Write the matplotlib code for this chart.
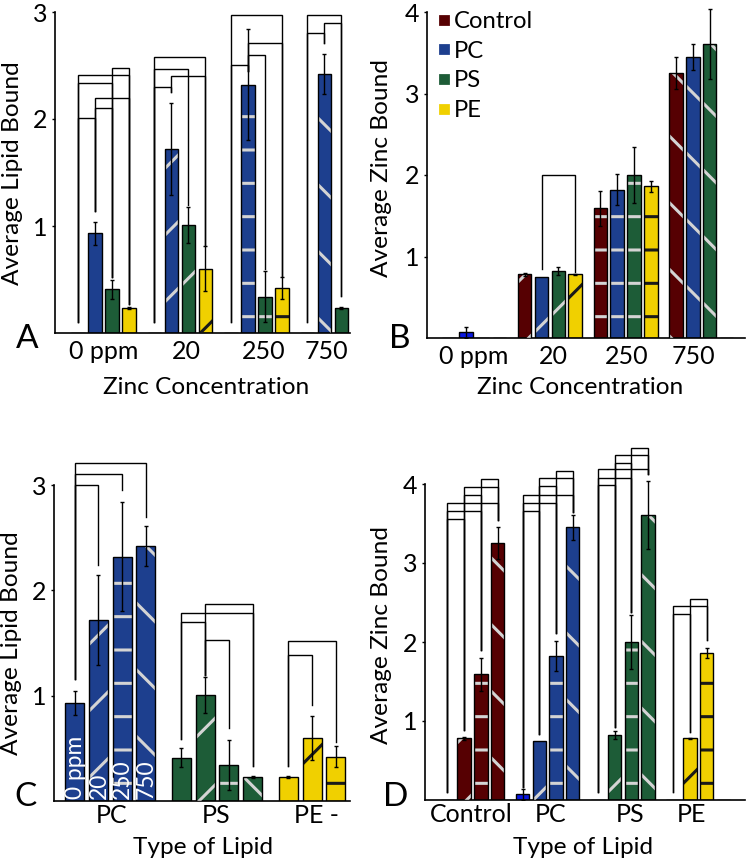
"""Lipid and zinc binding bar panels (A-D) with significance brackets."""

import matplotlib

matplotlib.use("Agg")
import matplotlib.pyplot as plt
import numpy as np
from matplotlib.lines import Line2D

plt.rcParams["font.family"] = ["Lato", "DejaVu Sans"]
plt.rcParams["hatch.linewidth"] = 1.1

LIPIDS = ["Control", "PC", "PS", "PE"]
CONCENTRATIONS = ["0 ppm", "20", "250", "750"]

# rows = lipid (Control, PC, PS, PE), columns = zinc concentration (0, 20, 250, 750 ppm)
LIPID_BOUND = [
    [0.0, 0.0, 0.0, 0.0],
    [0.93, 1.72, 2.32, 2.42],
    [0.41, 1.01, 0.34, 0.23],
    [0.23, 0.60, 0.42, np.nan],
]
LIPID_BOUND_ERR = [
    [0.0, 0.0, 0.0, 0.0],
    [0.11, 0.43, 0.52, 0.19],
    [0.09, 0.17, 0.24, 0.01],
    [0.01, 0.21, 0.10, np.nan],
]
ZINC_BOUND = [
    [0.0, 0.78, 1.59, 3.25],
    [0.07, 0.75, 1.82, 3.45],
    [0.0, 0.82, 2.00, 3.61],
    [0.0, 0.78, 1.86, 0.0],
]
ZINC_BOUND_ERR = [
    [0.0, 0.02, 0.21, 0.20],
    [0.07, 0.0, 0.19, 0.16],
    [0.0, 0.05, 0.34, 0.43],
    [0.0, 0.01, 0.065, 0.0],
]

# significance brackets: (group, bracket foot per bar, [(bar_i, bar_j, height)])
BRACKETS_A = [
    (0, [0.10, 1.14, 0.52, 0.27],
     [(0, 1, 2.01), (1, 2, 2.10), (1, 3, 2.20), (0, 2, 2.34), (0, 3, 2.41), (2, 3, 2.48)]),
    (1, [0.10, 2.25, 1.20, 0.82], [(0, 1, 2.30), (1, 3, 2.40), (0, 2, 2.47), (0, 3, 2.58)]),
    (2, [0.10, 2.45, 0.60, 0.53], [(0, 1, 2.50), (1, 2, 2.60), (1, 3, 2.71), (0, 3, 2.975)]),
    (3, [0.10, 2.71, 0.35], [(0, 1, 2.80), (1, 2, 2.90), (0, 2, 2.975)]),
]
BRACKETS_B = [
    (1, [0.0, 0.85, 0.0, 0.81], [(1, 3, 2.0)]),
]
BRACKETS_C = [
    (0, [1.16, 2.24, 2.95, 2.70], [(0, 1, 3.0), (0, 2, 3.11), (0, 3, 3.21)]),
    (1, [0.59, 1.20, 0.69, 0.33], [(1, 2, 1.53), (0, 1, 1.70), (0, 3, 1.79), (1, 3, 1.87)]),
    (2, [0.33, 0.91, 0.56], [(0, 1, 1.39), (0, 2, 1.52)]),
]
BRACKETS_D = [
    (0, [0.10, 0.89, 1.90, 3.54],
     [(0, 1, 3.56), (0, 2, 3.66), (0, 3, 3.76), (1, 2, 3.86), (1, 3, 3.96), (2, 3, 4.06)]),
    (1, [0.17, 0.84, 2.11, 3.65],
     [(0, 1, 3.66), (0, 2, 3.76), (0, 3, 3.86), (1, 2, 3.97), (1, 3, 4.07), (2, 3, 4.16)]),
    (2, [0.10, 0.93, 2.38, 4.13],
     [(0, 1, 3.99), (0, 2, 4.08), (0, 3, 4.19), (1, 2, 4.27), (1, 3, 4.37), (2, 3, 4.46)]),
    (3, [0.10, 0.86, 2.03], [(0, 1, 2.36), (0, 2, 2.46), (1, 2, 2.55)]),
]

LIPID_COLORS = ["#560002", "#1d3f8e", "#1d5c37", "#f0d000"]
PC_ZERO_ZINC_COLOR = "#0a18e0"
HATCHES = ["", "/", "-", "\\"]
HATCH_LIGHT = "#d4d4d4"
HATCH_DARK = "#1a1a1a"

GROUP_STEP = 4.5
BAR_WIDTH = 0.8
LINE_W = 0.5
TICK_SIZE = 9.0

FIG_W, FIG_H, DPI = 750, 867, 200


def fx(px):
    return px / FIG_W


def fy(py):
    return 1 - py / FIG_H


def make_axes(fig, left, right, bottom, px_per_unit, ytop):
    top = bottom - ytop * px_per_unit
    return fig.add_axes([fx(left), fy(bottom), fx(right - left), (bottom - top) / FIG_H])


def draw_bar(ax, x, h, err, color, hatch, hatch_color):
    ax.bar(x, h, BAR_WIDTH, color=color, linewidth=0, zorder=2)
    if hatch and h > 0:
        ax.bar(x, h, BAR_WIDTH, fill=False, edgecolor=hatch_color, linewidth=0,
               hatch=hatch, zorder=3)
    ax.bar(x, h, BAR_WIDTH, fill=False, edgecolor="black", linewidth=LINE_W, zorder=4)
    if err > 0:
        ax.errorbar(x, h, yerr=err, fmt="none", ecolor="black", elinewidth=LINE_W,
                    capsize=0.8, capthick=LINE_W, zorder=5)


def draw_panel(ax, values, errors, lipid_rows, by_lipid, zinc=False):
    for li in lipid_rows:
        for ci in range(len(CONCENTRATIONS)):
            h = values[li][ci]
            if np.isnan(h):
                continue
            if by_lipid:
                x = lipid_rows.index(li) * GROUP_STEP + ci
            else:
                x = ci * GROUP_STEP + lipid_rows.index(li)
            color = LIPID_COLORS[li]
            if zinc and li == 1 and ci == 0:
                color = PC_ZERO_ZINC_COLOR
            hatch_color = HATCH_DARK if li == 3 else HATCH_LIGHT
            draw_bar(ax, x, h, errors[li][ci], color, HATCHES[ci], hatch_color)


def draw_brackets(ax, brackets):
    for group, feet, pairs in brackets:
        for i, j, h in pairs:
            xi = group * GROUP_STEP + i
            xj = group * GROUP_STEP + j
            ax.plot([xi, xi, xj, xj], [feet[i], h, h, feet[j]], color="black",
                    lw=LINE_W, solid_joinstyle="miter", clip_on=False, zorder=1)


def style_axes(ax, xlim, ylim, yticks, ticklabels, tick_pos, xpad):
    ax.set_xlim(*xlim)
    ax.set_ylim(*ylim)
    for side in ("top", "right"):
        ax.spines[side].set_visible(False)
    ax.spines["left"].set_bounds(0, yticks[-1])
    for side in ("left", "bottom"):
        ax.spines[side].set_linewidth(0.6)
    ax.set_yticks(yticks)
    ax.set_yticklabels([str(t) for t in yticks])
    ax.set_xticks(tick_pos)
    ax.set_xticklabels(ticklabels)
    ax.tick_params(axis="y", length=1.2, width=0.5, pad=1.5, labelsize=TICK_SIZE)
    ax.tick_params(axis="x", length=0, pad=xpad, labelsize=TICK_SIZE)
    ax.patch.set_alpha(0)


fig = plt.figure(figsize=(FIG_W / DPI, FIG_H / DPI), dpi=DPI)

group_centers = [g * GROUP_STEP + 1.5 for g in range(4)]

# A: lipid bound, grouped by zinc concentration
ax_a = make_axes(fig, 55, 350, 333, 107, 3.05)
draw_panel(ax_a, LIPID_BOUND, LIPID_BOUND_ERR, [0, 1, 2, 3], by_lipid=False)
draw_brackets(ax_a, BRACKETS_A)
style_axes(ax_a, (-1.35, 16.0), (0, 3.05), [1, 2, 3], CONCENTRATIONS,
           np.array(group_centers) + np.array([0.0, 0.4, 0.4, -0.4]), 2.6)

# B: zinc bound, grouped by zinc concentration
ax_b = make_axes(fig, 427, 745, 338, 81.5, 4.1)
draw_panel(ax_b, ZINC_BOUND, ZINC_BOUND_ERR, [0, 1, 2, 3], by_lipid=False, zinc=True)
draw_brackets(ax_b, BRACKETS_B)
style_axes(ax_b, (-1.31, 17.6), (0, 4.1), [1, 2, 3, 4], CONCENTRATIONS,
           np.array(group_centers) + np.array([-0.06, 0.2, 0.06, -0.44]), 2.6)
handles = [Line2D([], [], marker="s", linestyle="none", markersize=2.6,
                  markerfacecolor=c, markeredgecolor=c) for c in LIPID_COLORS]
ax_b.legend(handles, LIPIDS, loc="upper left", bbox_to_anchor=(0.035, 0.978),
            frameon=False, fontsize=8.6, handlelength=0.45, handletextpad=0.2,
            labelspacing=0.36, borderpad=0, borderaxespad=0)

# C: lipid bound, grouped by lipid
ax_c = make_axes(fig, 54, 350, 801, 105.3, 3.3)
draw_panel(ax_c, LIPID_BOUND, LIPID_BOUND_ERR, [1, 2, 3], by_lipid=True)
draw_brackets(ax_c, BRACKETS_C)
style_axes(ax_c, (-0.87, 11.6), (0, 3.3), [1, 2, 3], ["PC", "PS", "PE -"],
           np.array(group_centers[:3]) + np.array([0.05, -0.05, -0.3]), 1.0)
for ci, label in enumerate(CONCENTRATIONS):
    ax_c.text(ci + 0.03, 0.02, label, rotation=90, ha="center", va="bottom",
              color="white", fontsize=8.2, zorder=6)

# D: zinc bound, grouped by lipid
ax_d = make_axes(fig, 425, 745, 800, 79, 4.55)
draw_panel(ax_d, ZINC_BOUND, ZINC_BOUND_ERR, [0, 1, 2, 3], by_lipid=True, zinc=True)
draw_brackets(ax_d, BRACKETS_D)
style_axes(ax_d, (-1.34, 17.8), (0, 4.55), [1, 2, 3, 4], LIPIDS,
           np.array(group_centers) + np.array([-0.08, 0.16, 0.42, -0.4]), 1.0)

# axis titles and panel letters
label_kw = dict(fontsize=8.8, ha="center", va="center")
fig.text(fx(13), fy(173), "Average Lipid Bound", rotation=90, **label_kw)
fig.text(fx(206), fy(388), "Zinc Concentration", **label_kw)
fig.text(fx(381), fy(168), "Average Zinc Bound", rotation=90, **label_kw)
fig.text(fx(580), fy(388), "Zinc Concentration", **label_kw)
fig.text(fx(12), fy(643), "Average Lipid Bound", rotation=90, **label_kw)
fig.text(fx(203), fy(848), "Type of Lipid", **label_kw)
fig.text(fx(381), fy(635), "Average Zinc Bound", rotation=90, **label_kw)
fig.text(fx(583), fy(848), "Type of Lipid", **label_kw)

letter_kw = dict(fontsize=12, ha="center", va="center")
fig.text(fx(27), fy(339), "A", **letter_kw)
fig.text(fx(400), fy(339), "B", **letter_kw)
fig.text(fx(26), fy(797), "C", **letter_kw)
fig.text(fx(396), fy(797), "D", **letter_kw)

fig.savefig("out.png", dpi=DPI, facecolor="white")
plt.close(fig)
